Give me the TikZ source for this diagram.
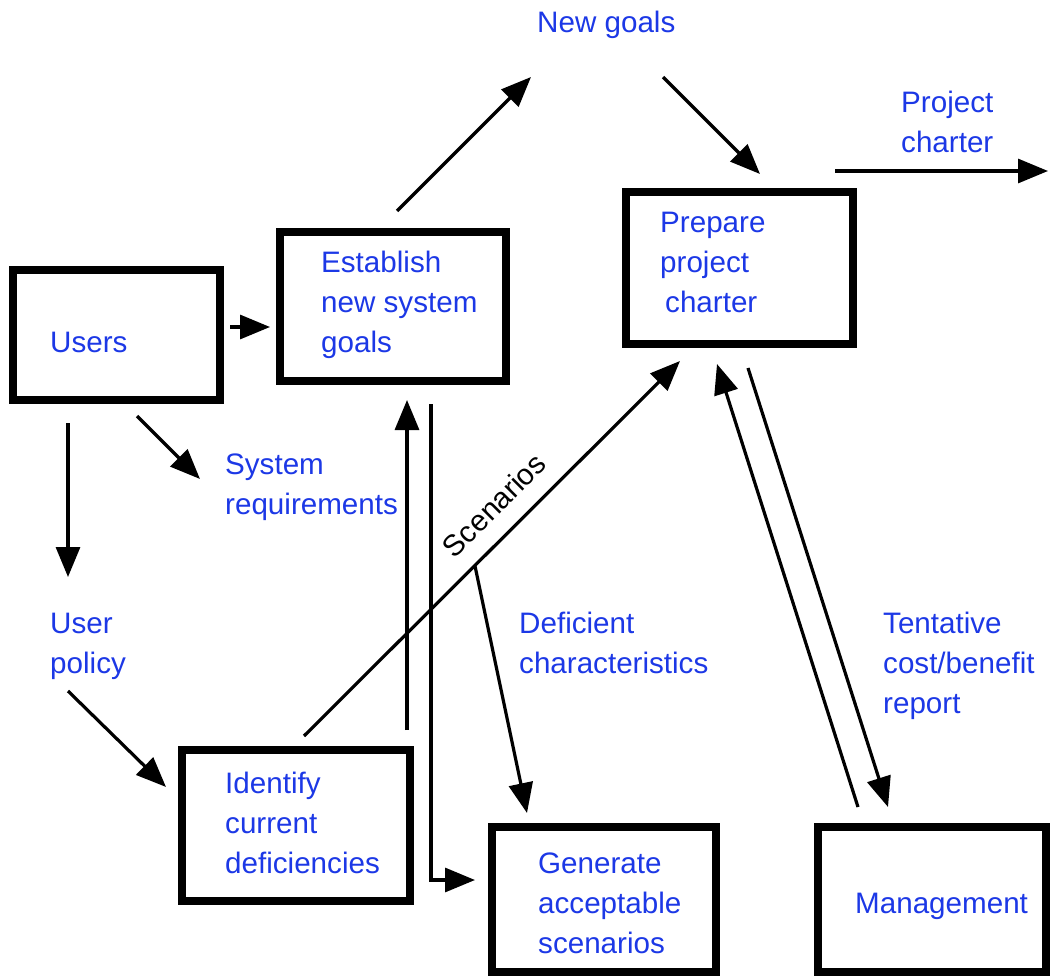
\documentclass[tikz,border=0pt]{standalone}
\usepackage{fontspec}
\setmainfont{Liberation Sans}
\usetikzlibrary{arrows.meta}
\definecolor{lblue}{RGB}{28,56,230}
\newcommand\lns[1]{\begin{tabular}[t]{@{}l@{}}#1\end{tabular}}
\begin{document}
\begin{tikzpicture}[x=1pt,y=-1pt,
  box/.style={draw, line width=8pt, inner sep=0pt},
  lbl/.style={text=lblue, font=\fontsize{29.6}{40}\selectfont, inner sep=0pt, anchor=base west},
  arr/.style={line width=3.2pt, -{Triangle[length=30pt,width=24pt]}},
  flow/.style={line width=3pt}]
\useasboundingbox (0,0) rectangle (1050,976);
% boxes
\node[box, minimum width=207pt, minimum height=130pt] (users) at (116.5,335) {};
\node[box, minimum width=226pt, minimum height=149pt] (est) at (393,306.5) {};
\node[box, minimum width=227pt, minimum height=152pt] (prep) at (739.5,268) {};
\node[box, minimum width=228pt, minimum height=151pt] (ident) at (296,825.5) {};
\node[box, minimum width=224pt, minimum height=145pt] (gen) at (604,899.5) {};
\node[box, minimum width=228pt, minimum height=145pt] (mgmt) at (932,899.5) {};
% box texts
\node[lbl] (usersT) at (50,353) {Users};
\node[lbl] (estT) at (321,273) {\lns{Establish\\new system\\goals}};
\node[lbl] (prepT) at (660,233) {\lns{Prepare\\project\\\hspace*{5pt}charter}};
\node[lbl] (identT) at (225,793) {\lns{Identify\\current\\deficiencies}};
\node[lbl] (genT) at (538,873) {\lns{Generate\\acceptable\\scenarios}};
\node[lbl] (mgmtT) at (855,913) {Management};
% flow labels
\node[lbl] (newgoals) at (537,33) {New goals};
\node[lbl] (charterL) at (901,113) {\lns{Project\\charter}};
\node[lbl] (sysreq) at (225,474) {\lns{System\\requirements}};
\node[lbl] (userpol) at (50,633) {\lns{User\\policy}};
\node[lbl] (defch) at (519,633) {\lns{Deficient\\characteristics}};
\node[lbl] (tent) at (883,633) {\lns{Tentative\\cost/benefit\\report}};
\node[font=\fontsize{29.6}{40}\selectfont, inner sep=0pt, rotate=45] (scen) at (494,505) {Scenarios};
% connector end points
\coordinate (a1s) at (230,327);  \coordinate (a1e) at (270,327);
\coordinate (a2s) at (397,211);  \coordinate (a2e) at (531,77);
\coordinate (a3s) at (663,77);   \coordinate (a3e) at (760,174);
\coordinate (a4s) at (835,171);  \coordinate (a4e) at (1048,171);
\coordinate (a5s) at (68,423);   \coordinate (a5e) at (68,577);
\coordinate (a6s) at (137,416);  \coordinate (a6e) at (200,479);
\coordinate (a7s) at (68,691);   \coordinate (a7e) at (166,787);
\coordinate (a8s) at (407,730);  \coordinate (a8e) at (407,400);
\coordinate (a9s) at (431,404);  \coordinate (a9c) at (431,880); \coordinate (a9e) at (475,880);
\coordinate (a10s) at (304,736); \coordinate (a10e) at (680,361);
\coordinate (a11s) at (475,566); \coordinate (a11e) at (527,813);
\coordinate (a12s) at (858,807); \coordinate (a12e) at (717,364);
\coordinate (a13s) at (748,368); \coordinate (a13e) at (888,807);
% connectors
\draw[arr] (a1s) -- (a1e);
\draw[arr] (a2s) -- (a2e);
\draw[arr] (a3s) -- (a3e);
\draw[arr] (a4s) -- (a4e);
\draw[arr] (a5s) -- (a5e);
\draw[arr] (a6s) -- (a6e);
\draw[arr] (a7s) -- (a7e);
\draw[arr] (a8s) -- (a8e);
\draw[arr] (a9s) -- (a9c) -- (a9e);
\draw[arr] (a10s) -- (a10e);
\draw[arr] (a11s) -- (a11e);
\draw[arr] (a12s) -- (a12e);
\draw[arr] (a13s) -- (a13e);
\end{tikzpicture}
\end{document}
